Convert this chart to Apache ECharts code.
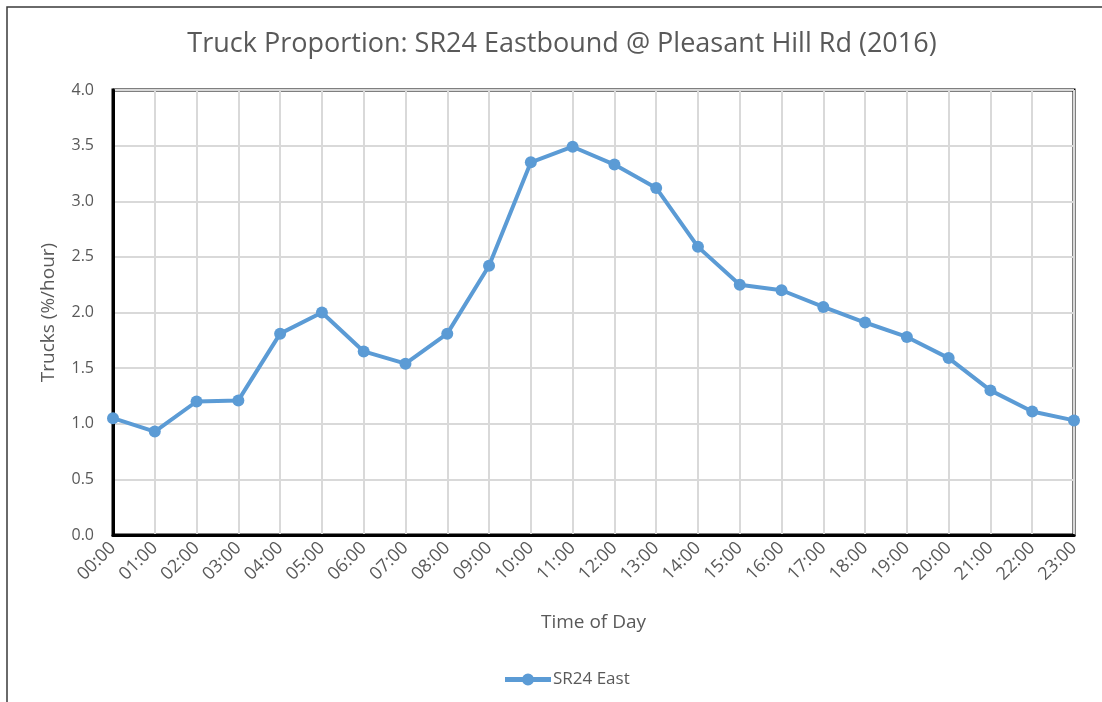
<!DOCTYPE html>
<html>
<head>
<meta charset="utf-8">
<script src="https://cdn.jsdelivr.net/npm/echarts@6/dist/echarts.min.js"></script>
<style>
  html, body { margin: 0; padding: 0; background: #fff; }
  #chart { width: 1102px; height: 702px; }
</style>
</head>
<body>
<div id="chart"></div>
<script>
const hours = ['00:00', '01:00', '02:00', '03:00', '04:00', '05:00', '06:00', '07:00',
  '08:00', '09:00', '10:00', '11:00', '12:00', '13:00', '14:00', '15:00',
  '16:00', '17:00', '18:00', '19:00', '20:00', '21:00', '22:00', '23:00']
const sr24East = [1.05, 0.93, 1.20, 1.21, 1.81, 2.00, 1.65, 1.54,
  1.81, 2.42, 3.35, 3.49, 3.33, 3.12, 2.59, 2.25,
  2.20, 2.05, 1.91, 1.78, 1.59, 1.30, 1.11, 1.03]
const yTicks = [0, 0.5, 1, 1.5, 2, 2.5, 3, 3.5, 4]

const font = 'Open Sans'
const textColor = '#595959'
const blue = '#5b9bd5'

// legend marker: thick line with a dot in the middle, like the spreadsheet legend
const legendIcon = 'path://M0,3.5 L46,3.5 L46,8.5 L0,8.5 Z M29,6 A6,6 0 1,1 17,6 A6,6 0 1,1 29,6 Z'

const chart = echarts.init(document.getElementById('chart'))
chart.setOption({
  animation: false,
  textStyle: { fontFamily: font },
  graphic: [
    {
      type: 'rect',
      shape: { x: 7, y: 7, width: 1200, height: 800 },
      style: { fill: 'none', stroke: '#3a3a3a', lineWidth: 1.5 },
      silent: true
    }
  ],
  title: {
    text: 'Truck Proportion: SR24 Eastbound @ Pleasant Hill Rd (2016)',
    left: 557,
    textAlign: 'center',
    top: 26,
    textStyle: { fontFamily: font, fontSize: 27, fontWeight: 'normal', color: textColor }
  },
  legend: {
    data: [{ name: 'SR24 East', icon: legendIcon }],
    left: 500,
    top: 666,
    itemWidth: 46,
    itemHeight: 12,
    itemGap: 4,
    itemStyle: { color: blue },
    textStyle: { fontFamily: font, fontSize: 17, color: textColor, padding: [0, 0, 0, -3] }
  },
  grid: {
    left: 113,
    right: 28,
    top: 90,
    bottom: 167,
    show: true,
    borderColor: '#000',
    borderWidth: 3,
    containLabel: false
  },
  xAxis: {
    type: 'category',
    data: hours,
    boundaryGap: false,
    name: 'Time of Day',
    nameLocation: 'middle',
    nameGap: 78,
    nameTextStyle: { fontFamily: font, fontSize: 19, color: textColor },
    axisLine: { lineStyle: { color: '#000', width: 3 } },
    axisTick: { show: false },
    axisLabel: { rotate: 45, margin: 10, fontSize: 18, color: textColor, fontFamily: font },
    splitLine: { show: true, lineStyle: { color: '#d9d9d9', width: 2 } }
  },
  yAxis: {
    type: 'value',
    min: 0,
    max: 4,
    interval: 0.5,
    name: 'Trucks (%/hour)',
    nameLocation: 'middle',
    nameGap: 55,
    nameTextStyle: { fontFamily: font, fontSize: 19, color: textColor },
    axisLine: { show: true, lineStyle: { color: '#000', width: 3 } },
    axisTick: { show: false },
    axisLabel: {
      margin: 19,
      fontSize: 16,
      color: textColor,
      fontFamily: font,
      formatter: v => yTicks.includes(v) ? v.toFixed(1) : ''
    },
    splitLine: { show: true, lineStyle: { color: '#d9d9d9', width: 2 } }
  },
  series: [
    {
      name: 'SR24 East',
      type: 'line',
      data: sr24East,
      symbol: 'circle',
      symbolSize: 12,
      lineStyle: { color: blue, width: 4 },
      itemStyle: { color: blue }
    }
  ]
})
</script>
</body>
</html>
